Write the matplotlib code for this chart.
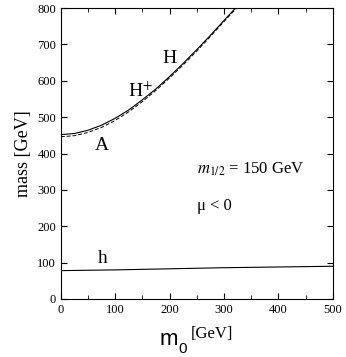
import matplotlib.pyplot as plt
from matplotlib import font_manager
from matplotlib.ticker import MultipleLocator

plt.rcParams["mathtext.fontset"] = "stix"

# curves
m0_heavy = [0, 25, 50, 75, 100, 125, 150, 175, 200, 225, 250, 275, 300, 321]
mass_H = [452, 455, 464, 478, 497, 520, 548, 578, 612, 648, 686, 725, 766, 800]
m0_A = [0, 25, 50, 75, 100, 125, 150, 175, 200, 225, 250, 275, 300, 323]
mass_A = [446, 449, 458, 472, 491, 515, 543, 574, 608, 644, 682, 722, 763, 800]
m0_h = [0, 100, 200, 300, 400, 500]
mass_h = [78, 80, 83, 86, 88, 90]

serif = "Liberation Serif"
names = {f.name for f in font_manager.fontManager.ttflist}
narrow = "Liberation Sans Narrow" if "Liberation Sans Narrow" in names else "Liberation Sans"

fig = plt.figure(figsize=(3.46, 3.57), dpi=100)
ax = fig.add_axes([0.176, 0.1625, 0.786, 0.815])

ax.plot(m0_heavy, mass_H, color="black", linewidth=0.8)
ax.plot(m0_A, mass_A, color="black", linewidth=0.7, linestyle=(0, (4, 2)))
ax.plot(m0_h, mass_h, color="black", linewidth=0.8)

ax.set_xlim(0, 500)
ax.set_ylim(0, 800)
ax.xaxis.set_major_locator(MultipleLocator(100))
ax.xaxis.set_minor_locator(MultipleLocator(50))
ax.yaxis.set_major_locator(MultipleLocator(100))
ax.tick_params(which="both", direction="in", top=True, right=True, length=4)
ax.tick_params(which="minor", length=3)
for lab in ax.get_xticklabels() + ax.get_yticklabels():
    lab.set_family(serif)
    lab.set_fontsize(9)

ax.text(186, 648, "H", fontsize=14, family=serif, va="baseline")
ax.text(123, 555, "H$^{+}$", fontsize=14, family=serif, va="baseline")
ax.text(63, 409, "A", fontsize=14, family=serif, va="baseline")
ax.text(68, 99, "h", fontsize=14, family=serif, va="baseline")
ax.text(250, 346, "$m_{1/2}$ = 150 GeV", fontsize=12, family=serif, va="baseline")
ax.text(250, 245, "μ < 0", fontsize=12, family=serif, va="baseline")

ax.set_ylabel("mass [GeV]", fontsize=13, family=serif)
fig.text(0.462, 0.034, "m", fontsize=16, family=narrow, va="baseline")
fig.text(0.515, 0.012, "0", fontsize=11, family=narrow, va="baseline")
fig.text(0.552, 0.053, "[GeV]", fontsize=12, family=serif, va="baseline")

fig.savefig("out.png", dpi=100)
